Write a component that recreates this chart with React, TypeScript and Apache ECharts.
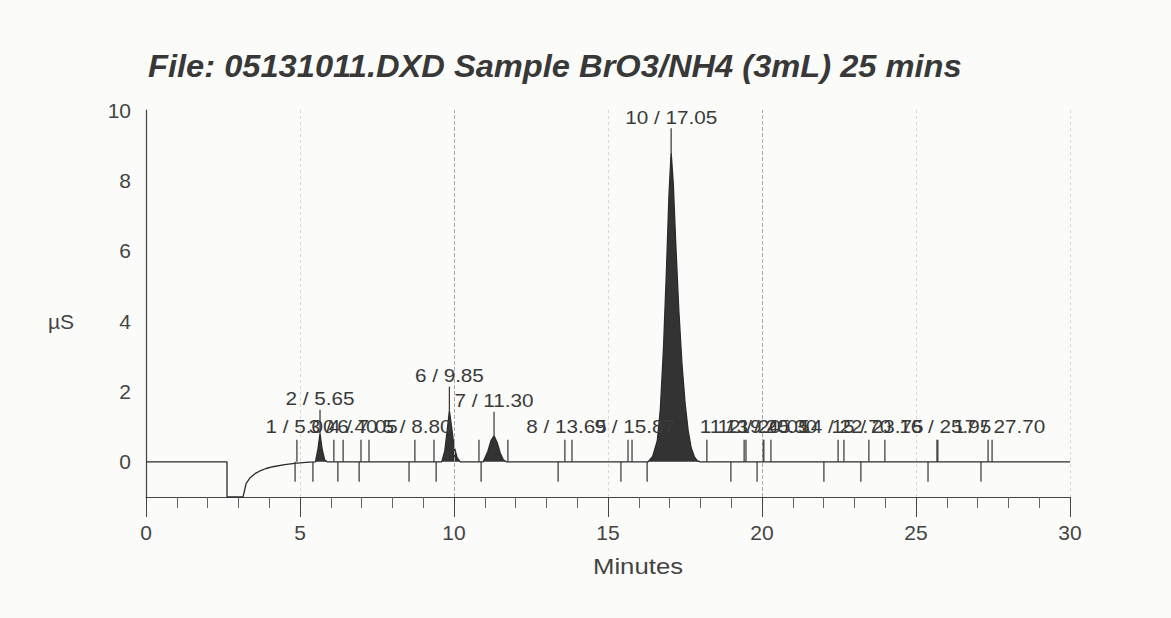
import React, { useEffect, useRef } from "react";
import * as echarts from "echarts";

const titleText = "File: 05131011.DXD Sample BrO3/NH4 (3mL) 25 mins";
const xAxisName = "Minutes";
const yAxisName = "µS";

// chromatogram trace (minutes, µS)
const traceTime = [
  0, 2.63, 2.63, 3.15, 3.25, 3.38, 3.55, 3.7, 3.9, 4.12, 4.5, 4.9, 5.3,
  5.5, 5.58, 5.65, 5.72, 5.8, 5.88,
  9.6, 9.7, 9.78, 9.85, 9.92, 10.0, 10.1, 10.2,
  10.95, 11.1, 11.2, 11.3, 11.4, 11.5, 11.6, 11.7,
  16.3, 16.45, 16.6, 16.7, 16.8, 16.9, 16.98, 17.05, 17.12, 17.2, 17.3, 17.4, 17.5, 17.6, 17.7, 17.8, 17.9, 18.0,
  30,
];
const traceValue = [
  0, 0, -1, -1, -0.62, -0.45, -0.33, -0.26, -0.19, -0.14, -0.08, -0.04, -0.01,
  0, 0.35, 0.8, 0.35, 0.06, 0,
  0, 0.3, 0.9, 1.45, 1.0, 0.45, 0.12, 0,
  0, 0.3, 0.6, 0.74, 0.55, 0.25, 0.06, 0,
  0, 0.15, 0.6, 1.5, 3.2, 5.5, 7.6, 8.8, 7.9, 6.2, 4.3, 2.8, 1.7, 0.9, 0.4, 0.15, 0.03, 0,
  0,
];

// peak table
const peakNumber = [1, 2, 3, 4, 5, 6, 7, 8, 9, 10, 11, 12, 13, 14, 15, 16, 17];
const peakTime = [5.0, 5.65, 6.4, 7.05, 8.8, 9.85, 11.3, 13.65, 15.87, 17.05, 19.45, 20.05, 20.3, 22.7, 23.75, 25.95, 27.7];
const peakApex = [0, 0.8, 0, 0, 0, 1.45, 0.74, 0, 0, 8.8, 0, 0, 0, 0, 0, 0, 0];

// peak delimiter marks above / below the baseline
const upperMarks = [4.9, 6.1, 6.4, 6.98, 7.24, 8.73, 9.35, 10.81, 11.75, 13.6, 13.83, 15.65, 15.78, 18.21, 19.42, 19.48, 20.03, 20.06, 20.29, 22.47, 22.66, 23.47, 23.99, 25.68, 25.71, 27.34, 27.47];
const lowerMarks = [4.84, 5.42, 6.23, 6.92, 8.54, 9.42, 10.88, 13.38, 15.42, 16.27, 18.99, 19.84, 22.01, 23.21, 25.39, 27.11];

const yTickLabels = [0, 2, 4, 6, 8, 10];
const strongGridX = [10, 20];

const FONT = "'Liberation Sans', Arial, sans-serif";

export default function App() {
  const ref = useRef<HTMLDivElement>(null);
  useEffect(() => {
    if (!ref.current) return;
    const chart = echarts.init(ref.current, null, { renderer: "svg" });
    const trace = traceTime.map((t, i) => [t, traceValue[i]]);
    const fill = trace.map(([t, v]) => [t, Math.max(v, 0)]);
    const peaks = peakTime.map((t, i) => [t, peakApex[i]]);
    const labels = peakNumber.map((n, i) => `${n} / ${peakTime[i].toFixed(2)}`);

    chart.setOption({
      animation: false,
      backgroundColor: "#fbfcf9",
      textStyle: { fontFamily: FONT },
      grid: { left: 146, right: 101, top: 110, bottom: 121 },
      graphic: [
        {
          type: "text",
          x: 148,
          y: 50,
          scaleX: 1.02,
          style: {
            text: titleText,
            font: `italic bold 32px ${FONT}`,
            fill: "#383838",
          },
        },
        {
          type: "text",
          x: 74,
          y: 321,
          style: {
            text: yAxisName,
            font: `21px ${FONT}`,
            fill: "#444",
            align: "right",
            verticalAlign: "middle",
          },
        },
        {
          type: "text",
          x: 638,
          y: 566,
          scaleX: 1.17,
          style: {
            text: xAxisName,
            font: `22px ${FONT}`,
            fill: "#444",
            align: "center",
            verticalAlign: "middle",
          },
        },
      ],
      xAxis: {
        type: "value",
        min: 0,
        max: 30,
        interval: 5,
        axisLine: { onZero: false, lineStyle: { color: "#444", width: 1.2 } },
        axisTick: { show: true, length: 20, lineStyle: { color: "#444" } },
        minorTick: { show: true, splitNumber: 5, length: 11, lineStyle: { color: "#666" } },
        axisLabel: { fontSize: 21, color: "#444", margin: 25, fontFamily: FONT },
        splitLine: { show: true, lineStyle: { color: "#d6d6d6", type: [3, 3], width: 1 } },
      },
      yAxis: {
        type: "value",
        min: -1,
        max: 10,
        interval: 1,
        axisLine: { show: true, lineStyle: { color: "#444", width: 1.2 } },
        axisTick: { show: false },
        axisLabel: {
          fontSize: 21,
          color: "#444",
          margin: 15,
          fontFamily: FONT,
          formatter: (v: number) => (yTickLabels.includes(v) ? String(v) : ""),
        },
        splitLine: { show: false },
      },
      series: [
        {
          type: "line",
          data: fill,
          symbol: "none",
          lineStyle: { width: 0 },
          areaStyle: { color: "#333", opacity: 1, origin: 0 },
          silent: true,
          z: 2,
          markLine: {
            silent: true,
            symbol: "none",
            label: { show: false },
            lineStyle: { color: "#a9a9a9", type: [4, 2], width: 1 },
            data: strongGridX.map((x) => ({ xAxis: x })),
          },
        },
        {
          type: "line",
          data: trace,
          symbol: "none",
          lineStyle: { color: "#2b2b2b", width: 1.3 },
          silent: true,
          z: 3,
        },
        {
          type: "custom",
          data: upperMarks.map((t) => [t, 0]),
          silent: true,
          z: 4,
          renderItem: (params: any, api: any) => {
            const p = api.coord([api.value(0), api.value(1)]);
            return {
              type: "line",
              shape: { x1: p[0], y1: p[1], x2: p[0], y2: p[1] - 22 },
              style: { stroke: "#333", lineWidth: 1.2 },
            };
          },
        },
        {
          type: "custom",
          data: lowerMarks.map((t) => [t, 0]),
          silent: true,
          z: 4,
          renderItem: (params: any, api: any) => {
            const p = api.coord([api.value(0), api.value(1)]);
            return {
              type: "line",
              shape: { x1: p[0], y1: p[1], x2: p[0], y2: p[1] + 20 },
              style: { stroke: "#333", lineWidth: 1.2 },
            };
          },
        },
        {
          type: "custom",
          data: peaks,
          silent: true,
          clip: false,
          z: 5,
          renderItem: (params: any, api: any) => {
            const p = api.coord([api.value(0), api.value(1)]);
            const hasApex = api.value(1) > 0.2;
            const children: any[] = [];
            if (hasApex) {
              children.push({
                type: "line",
                shape: { x1: p[0], y1: p[1], x2: p[0], y2: p[1] - 24 },
                style: { stroke: "#333", lineWidth: 1.2 },
              });
            }
            children.push({
              type: "text",
              x: p[0],
              y: p[1] - 35,
              scaleX: 1.15,
              style: {
                text: labels[params.dataIndex],
                font: `18px ${FONT}`,
                fill: "#3a3a3a",
                align: "center",
                verticalAlign: "middle",
              },
            });
            return { type: "group", children };
          },
        },
      ],
    });
    return () => chart.dispose();
  }, []);
  return (
    <div
      ref={ref}
      style={{ position: "fixed", left: 0, top: 0, width: 1171, height: 618 }}
    />
  );
}
